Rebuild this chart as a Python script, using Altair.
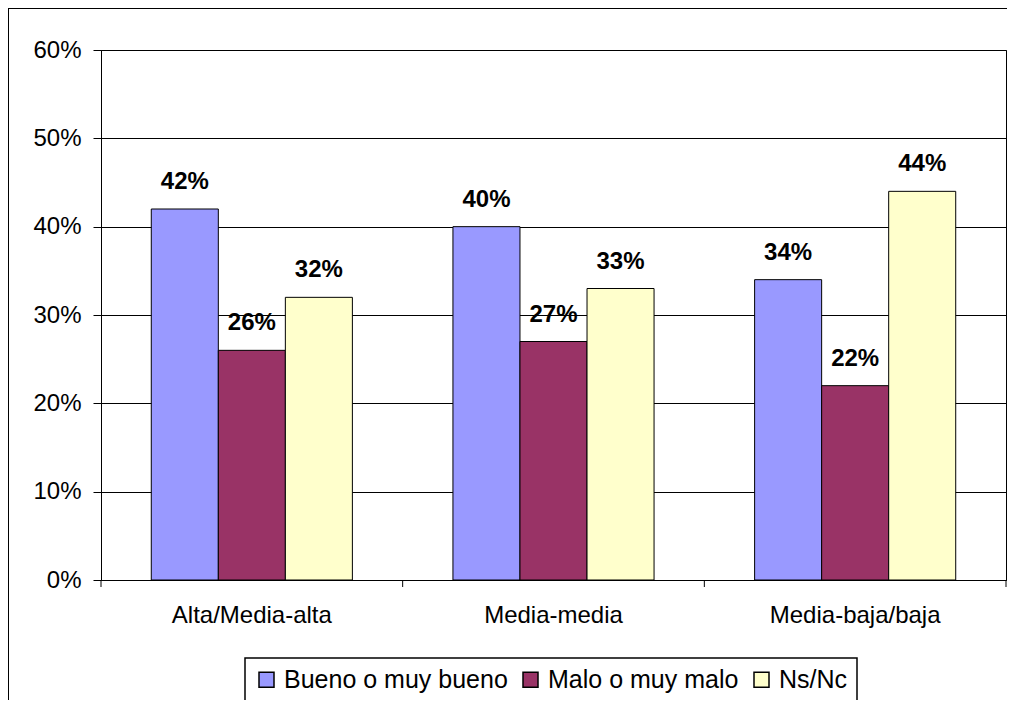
import altair as alt
import pandas as pd

categories = ["Alta/Media-alta", "Media-media", "Media-baja/baja"]
series = ["Bueno o muy bueno", "Malo o muy malo", "Ns/Nc"]
bueno = [0.42, 0.40, 0.34]
malo = [0.26, 0.27, 0.22]
nsnc = [0.32, 0.33, 0.44]
colors = ["#9999FF", "#993366", "#FFFFCC"]
y_ticks = [0, 0.1, 0.2, 0.3, 0.4, 0.5, 0.6]

rows = []
for i, c in enumerate(categories):
    for s, vals in zip(series, [bueno, malo, nsnc]):
        rows.append({"cat": c, "serie": s, "value": vals[i]})
df = pd.DataFrame(rows)

W, H = 905, 530
FONT = "Liberation Sans"

x_enc = alt.X(
    "cat:N", sort=categories,
    scale=alt.Scale(paddingInner=0, paddingOuter=0),
    axis=alt.Axis(title=None, labelAngle=0, ticks=False, domain=True, domainColor="black",
                  labelFontSize=24, labelPadding=23, labelColor="black", labelFont=FONT),
)
xo_enc = alt.XOffset("serie:N", sort=series, scale=alt.Scale(paddingInner=0, paddingOuter=0.75))
y_enc = alt.Y(
    "value:Q",
    scale=alt.Scale(domain=[0, 0.6], nice=False),
    axis=alt.Axis(title=None, format=".0%", values=y_ticks, grid=True, gridColor="black",
                  gridOpacity=1, gridWidth=1, tickColor="black", tickSize=8, domainColor="black",
                  labelFontSize=24, labelPadding=12, labelColor="black", labelFont=FONT),
)
color_enc = alt.Color(
    "serie:N", sort=series,
    scale=alt.Scale(domain=series, range=colors),
    legend=alt.Legend(title=None, orient="none", legendX=144, legendY=608, direction="horizontal",
                      symbolType="square", symbolSize=225, symbolStrokeColor="black",
                      symbolStrokeWidth=1.5, labelFontSize=25, labelFont=FONT, labelColor="black",
                      labelLimit=0, columnPadding=10, labelOffset=5, strokeColor="black",
                      padding=9, fillColor="white", symbolOpacity=1),
)

bars = alt.Chart(df).mark_bar(stroke="black", strokeWidth=1, opacity=1).encode(
    x=x_enc, xOffset=xo_enc, y=y_enc, color=color_enc
)
labels = alt.Chart(df).mark_text(dy=-27, fontWeight="bold", fontSize=24, font=FONT,
                                 color="black", baseline="middle").encode(
    x=alt.X("cat:N", sort=categories), xOffset=alt.XOffset("serie:N", sort=series),
    y="value:Q", text=alt.Text("value:Q", format=".0%")
)
ticks = alt.Chart(pd.DataFrame({"cat": categories})).mark_rule(color="black").encode(
    x=alt.X("cat:N", sort=categories, bandPosition=0),
    y=alt.value(H), y2=alt.value(H + 7)
)
one = alt.Data(values=[{"a": 1}])
last_tick = alt.Chart(one).mark_rule(color="black").encode(
    x=alt.value(W), y=alt.value(H), y2=alt.value(H + 7)
)
frame_top = alt.Chart(one).mark_rule(color="black", strokeWidth=2).encode(
    x=alt.value(-93), x2=alt.value(W + 60), y=alt.value(-42)
)
frame_left = alt.Chart(one).mark_rule(color="black", strokeWidth=2).encode(
    x=alt.value(-93), y=alt.value(-43), y2=alt.value(H + 220)
)

chart = alt.layer(bars, labels, ticks, last_tick, frame_top, frame_left).properties(
    width=W, height=H,
    autosize=alt.AutoSizeParams(type="none"),
    padding={"left": 93, "top": 42, "right": 1, "bottom": 120},
    background="white",
).configure_view(stroke="black", strokeWidth=1).configure_legend(strokeWidth=1.5)

chart.save("out.html", embed_options={"renderer": "svg", "actions": False})
